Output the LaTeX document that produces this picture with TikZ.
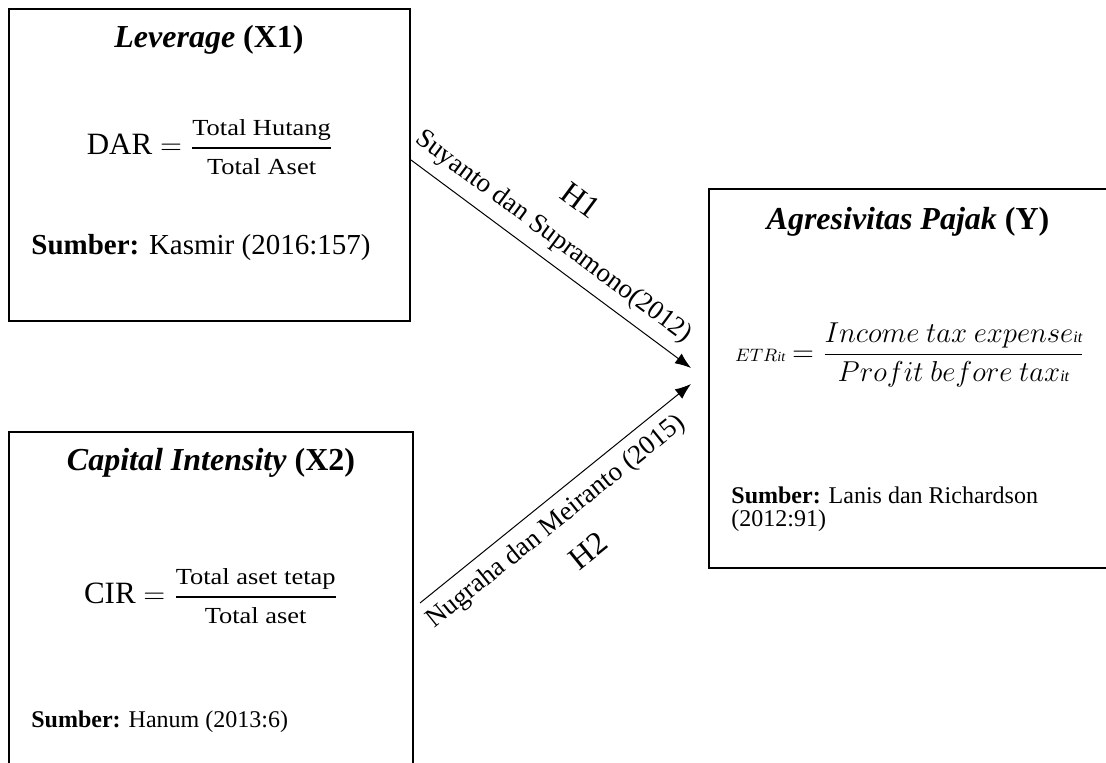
\documentclass[tikz,border=0pt]{standalone}
\usepackage{fontspec}
\usepackage{amsmath}
\setmainfont{Liberation Serif}
\newfontfamily\cambriafont[FakeStretch=1.15]{Liberation Serif}
\usetikzlibrary{arrows.meta}

\begin{document}
\begin{tikzpicture}[x=0.5pt, y=-0.5pt,
    varbox/.style={draw, line width=1pt, inner sep=0pt},
    src/.style={anchor=west, inner sep=0pt, align=left},
    link/.style={-{Latex[length=8pt,width=6pt]}, line width=0.5pt},
    cite/.style={sloped, inner sep=0pt, font=\fontsize{13.5}{15}\selectfont},
    hyp/.style={sloped, inner sep=0pt, font=\fontsize{16}{18}\selectfont}]
%   \draw[help lines] (0,0) grid (1106,763);
    \useasboundingbox (0,0) rectangle (1106,763);
    \clip (0,0) rectangle (1106,763);
    % the three variable boxes
    \node[varbox, minimum width=200.5pt, minimum height=156pt] (lev) at (209.5,165) {};
    \node[varbox, minimum width=202pt, minimum height=174pt] (cap) at (211,606) {};
    \node[varbox, minimum width=205.5pt, minimum height=189.5pt] (agr) at (914.5,378.5) {};
    % X1
    \node[font=\fontsize{16}{18}\selectfont] (levtitle) at (209,40) {\textbf{\textit{Leverage}} \textbf{(X1)}};
    \node[font=\fontsize{15.5}{18}\selectfont] (levfrac) at (210,147) {DAR $=\genfrac{}{}{1pt}{0}{\text{\cambriafont\fontsize{11.5}{13}\selectfont Total Hutang}}{\text{\cambriafont\fontsize{11.5}{13}\selectfont Total Aset}}$};
    \node[src, font=\fontsize{14.5}{17}\selectfont] (levsrc) at (31,248) {\textbf{Sumber:} Kasmir (2016:157)};
    % X2
    \node[font=\fontsize{16}{18}\selectfont] (captitle) at (211,463) {\textbf{\textit{Capital Intensity}} \textbf{(X2)}};
    \node[font=\fontsize{15.5}{18}\selectfont] (capfrac) at (211,596) {CIR $=\genfrac{}{}{1pt}{0}{\text{\cambriafont\fontsize{11.5}{13}\selectfont Total aset tetap}}{\text{\cambriafont\fontsize{11.5}{13}\selectfont Total aset}}$};
    \node[src, font=\fontsize{12}{14}\selectfont] (capsrc) at (31,722) {\textbf{Sumber:} Hanum (2013:6)};
    % Y
    \node[font=\fontsize{16}{18}\selectfont] (agrtitle) at (908,222) {\textbf{\textit{Agresivitas Pajak}} \textbf{(Y)}};
    \node[font=\fontsize{13.5}{16}\selectfont] (agrfrac) at (910,355) {{\fontsize{9}{10}\selectfont$ETR$\textit{\fontsize{7}{8}\selectfont it}} $=\genfrac{}{}{0.8pt}{0}{Income\ tax\ expense\mbox{\fontsize{8}{9}\selectfont\itshape it}}{Profit\ before\ tax\mbox{\fontsize{8}{9}\selectfont\itshape it}}$};
    \node[src, font=\fontsize{12}{11.5}\selectfont] (agrsrc) at (731,509) {\textbf{Sumber:} Lanis dan Richardson\\(2012:91)};
    % hypotheses
    \draw[link] ([yshift=2.5pt]lev.east) -- ([xshift=-8.5pt, yshift=5.25pt]agr.west)
        node[cite, pos=0.46, above=5pt] (citeA) {Suyanto dan Supramono(2012)}
        node[hyp, pos=0.46, above=29pt] (hypA) {H1};
    \draw[link] ([xshift=3pt, yshift=1.5pt]cap.east) -- ([xshift=-8.5pt, yshift=-2.75pt]agr.west)
        node[cite, pos=0.45, below=5pt] (citeB) {Nugraha dan Meiranto (2015)}
        node[hyp, pos=0.47, below=27pt] (hypB) {H2};
\end{tikzpicture}
\end{document}
